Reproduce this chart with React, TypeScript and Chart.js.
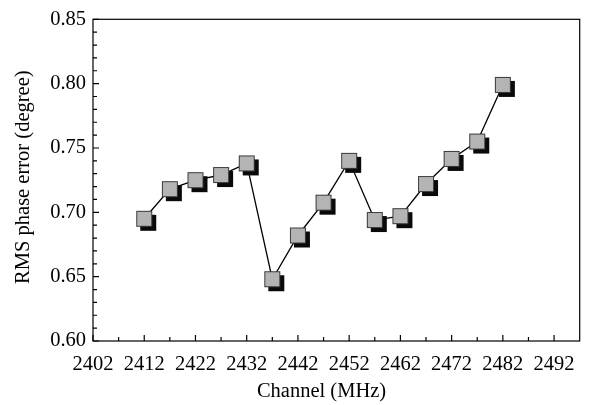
import React, { useEffect, useRef } from "react";
import { Chart, registerables } from "chart.js";

Chart.register(...registerables);

const channels = [2412, 2417, 2422, 2427, 2432, 2437, 2442, 2447, 2452, 2457, 2462, 2467, 2472, 2477, 2482];
const rmsError = [0.695, 0.718, 0.725, 0.729, 0.738, 0.648, 0.682, 0.7075, 0.74, 0.694, 0.697, 0.722, 0.7415, 0.755, 0.799];

const xTicks = [2402, 2412, 2422, 2432, 2442, 2452, 2462, 2472, 2482, 2492];
const xMinorTicks = [2407, 2417, 2427, 2437, 2447, 2457, 2467, 2477, 2487];
const yTicks = [0.6, 0.65, 0.7, 0.75, 0.8, 0.85];
const yMinorTicks = [
  0.61, 0.62, 0.63, 0.64, 0.66, 0.67, 0.68, 0.69, 0.71, 0.72, 0.73, 0.74,
  0.76, 0.77, 0.78, 0.79, 0.81, 0.82, 0.83, 0.84,
];

const xTitle = "Channel (MHz)";
const yTitle = "RMS phase error (degree)";
const FONT = "Liberation Serif, 'Times New Roman', serif";

function makeMarker(): HTMLCanvasElement {
  const c = document.createElement("canvas");
  c.width = 26;
  c.height = 26;
  const g = c.getContext("2d")!;
  g.fillStyle = "#0a0a0a";
  g.fillRect(9, 9, 16, 16);
  g.fillStyle = "#b4b4b4";
  g.fillRect(5, 5, 16, 16);
  g.strokeStyle = "#3a3a3a";
  g.lineWidth = 1;
  g.strokeRect(5.5, 5.5, 15, 15);
  return c;
}

const framePlugin = {
  id: "frameTicks",
  afterDraw(chart: any) {
    const { ctx, chartArea: a, scales } = chart;
    const xs = scales.x;
    const ys = scales.y;
    ctx.save();
    ctx.strokeStyle = "#000";
    ctx.lineWidth = 1.2;
    ctx.strokeRect(a.left, a.top, a.right - a.left, a.bottom - a.top);
    ctx.beginPath();
    const tick = (vals: number[], len: number) => {
      vals.forEach((v) => {
        const px = xs.getPixelForValue(v);
        ctx.moveTo(px, a.bottom);
        ctx.lineTo(px, a.bottom - len);
      });
    };
    const ytick = (vals: number[], len: number) => {
      vals.forEach((v) => {
        const py = ys.getPixelForValue(v);
        ctx.moveTo(a.left, py);
        ctx.lineTo(a.left + len, py);
      });
    };
    tick(xTicks, 6);
    tick(xMinorTicks, 4);
    ytick(yTicks, 6);
    ytick(yMinorTicks, 4);
    ctx.stroke();

    ctx.fillStyle = "#000";
    ctx.font = `20.5px ${FONT}`;
    ctx.textAlign = "center";
    ctx.textBaseline = "alphabetic";
    ctx.fillText(xTitle, 321.5, 397);
    ctx.save();
    ctx.translate(29, (a.top + a.bottom) / 2 - 3);
    ctx.rotate(-Math.PI / 2);
    ctx.fillText(yTitle, 0, 0);
    ctx.restore();
    ctx.restore();
  },
};

export default function App() {
  const ref = useRef<HTMLCanvasElement | null>(null);

  useEffect(() => {
    document.body.style.margin = "0";
    const marker = makeMarker();
    const chart = new Chart(ref.current!, {
      type: "line",
      data: {
        datasets: [
          {
            data: channels.map((c, i) => ({ x: c, y: rmsError[i] })),
            borderColor: "#000",
            borderWidth: 1.3,
            pointStyle: marker as any,
            pointRadius: 8,
            pointHoverRadius: 8,
            fill: false,
            tension: 0,
          },
        ],
      },
      options: {
        responsive: false,
        animation: false,
        events: [],
        layout: { padding: { top: 17, right: 5, left: 0, bottom: 0 } },
        plugins: { legend: { display: false }, tooltip: { enabled: false } },
        scales: {
          x: {
            type: "linear",
            min: 2402,
            max: 2497,
            grid: { display: false, drawTicks: false },
            border: { display: false },
            afterBuildTicks: (s: any) => {
              s.ticks = xTicks.map((v) => ({ value: v }));
            },
            afterFit: (s: any) => {
              s.height = 64;
            },
            ticks: {
              padding: 11,
              color: "#000",
              font: { family: FONT, size: 20.5 },
              maxRotation: 0,
              autoSkip: false,
              callback: (v: any) => String(v),
            },
          },
          y: {
            type: "linear",
            min: 0.6,
            max: 0.85,
            grid: { display: false, drawTicks: false },
            border: { display: false },
            afterBuildTicks: (s: any) => {
              s.ticks = yTicks.map((v) => ({ value: v }));
            },
            afterFit: (s: any) => {
              s.width = 93;
            },
            ticks: {
              padding: 7,
              color: "#000",
              font: { family: FONT, size: 20.5 },
              autoSkip: false,
              callback: (v: any) => Number(v).toFixed(2),
            },
          },
        },
      },
      plugins: [framePlugin],
    });
    return () => chart.destroy();
  }, []);

  return (
    <div style={{ position: "absolute", left: 0, top: 0, width: 589, height: 405, background: "#fff" }}>
      <canvas ref={ref} width={589} height={405} style={{ display: "block" }} />
    </div>
  );
}
